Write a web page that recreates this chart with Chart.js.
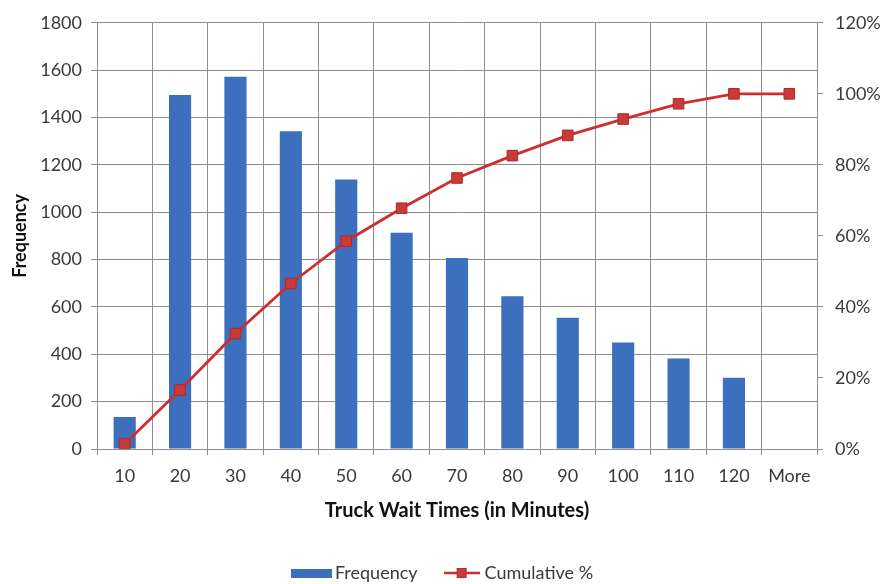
<!DOCTYPE html>
<html>
<head>
<meta charset="utf-8">
<script src="https://cdn.jsdelivr.net/npm/chart.js@4.4.1/dist/chart.umd.min.js"></script>
<style>
html,body{margin:0;padding:0;background:#fff;}
#wrap{width:891px;height:584px;position:relative;}
</style>
</head>
<body>
<div id="wrap"><canvas id="c" width="891" height="584"></canvas></div>
<script>
const categories = ['10','20','30','40','50','60','70','80','90','100','110','120','More'];
const frequency = [135, 1495, 1572, 1342, 1138, 913, 807, 645, 554, 450, 382, 301, 0];
const cumulativePct = [1.4, 16.6, 32.5, 46.6, 58.5, 67.8, 76.3, 82.6, 88.3, 92.9, 97.2, 100, 100];
const seriesNames = ['Frequency', 'Cumulative %'];

const FONT = 'Lato, "Open Sans", sans-serif';
const BLUE = '#3d6fbf';
const RED = '#cf2e2e';
const GRID = '#8e8e8e';
const TEXT = '#3a3a3a';

function barIcon(){
  const c = document.createElement('canvas'); c.width = 41; c.height = 9;
  const x = c.getContext('2d'); x.fillStyle = BLUE; x.fillRect(0,0,41,9); return c;
}
function lineIcon(){
  const c = document.createElement('canvas'); c.width = 36; c.height = 12;
  const x = c.getContext('2d');
  x.strokeStyle = RED; x.lineWidth = 2.5; x.beginPath(); x.moveTo(0,6); x.lineTo(36,6); x.stroke();
  x.fillStyle = '#c93a3a'; x.fillRect(13,1,10,10);
  x.strokeStyle = '#b22a2a'; x.lineWidth = 1; x.strokeRect(13.5,1.5,9,9);
  return c;
}
const icons = [barIcon(), lineIcon()];

const legendSize = {
  id: 'legendSize',
  afterInit(chart){
    const lg = chart.legend; const orig = lg.fit;
    lg.fit = function(){ orig.call(this); this.height = 50; };
  }
};

new Chart(document.getElementById('c'), {
  data: {
    labels: categories,
    datasets: [
      { type: 'bar', label: seriesNames[0], data: frequency, backgroundColor: BLUE,
        barPercentage: 0.4, categoryPercentage: 1.0, yAxisID: 'y', order: 2 },
      { type: 'line', label: seriesNames[1], data: cumulativePct, borderColor: RED, borderWidth: 2.8,
        pointStyle: 'rect', pointRadius: 7.5, pointBackgroundColor: '#c93a3a', pointBorderColor: '#b22a2a',
        pointBorderWidth: 1, tension: 0, yAxisID: 'y1', order: 1 }
    ]
  },
  options: {
    responsive: false, animation: false, devicePixelRatio: 1,
    layout: { padding: { top: 22, left: 0, right: 0, bottom: 0 } },
    plugins: {
      tooltip: { enabled: false },
      legend: {
        position: 'bottom',
        labels: {
          font: { family: FONT, size: 18 }, color: TEXT, padding: 30,
          usePointStyle: true, pointStyleWidth: 28,
          generateLabels(chart){
            return chart.data.datasets.map((d, i) => ({
              text: d.label, datasetIndex: i, pointStyle: icons[i],
              fillStyle: BLUE, strokeStyle: BLUE, lineWidth: 0, hidden: false, fontColor: TEXT
            }));
          }
        }
      }
    },
    scales: {
      x: {
        grid: { color: GRID, offset: true, tickLength: 6, drawTicks: true },
        border: { color: GRID },
        ticks: { font: { family: FONT, size: 18 }, color: TEXT, padding: 10, maxRotation: 0 },
        title: { display: true, text: 'Truck Wait Times (in Minutes)', font: { family: FONT, size: 20, weight: 'bold' },
                 color: '#111', padding: { top: 0, bottom: 11 } },
        afterFit(s){ s.height = 85; }
      },
      y: {
        position: 'left', min: 0, max: 1800,
        grid: { color: GRID, tickLength: 6 },
        border: { color: GRID },
        ticks: { stepSize: 200, font: { family: FONT, size: 18 }, color: TEXT, padding: 9,
                 callback: v => String(v) },
        title: { display: true, text: 'Frequency', font: { family: FONT, size: 18, weight: 'bold' }, color: '#111',
                 padding: { top: 9, bottom: 0 } },
        afterFit(s){ s.width = 97; }
      },
      y1: {
        position: 'right', min: 0, max: 120,
        grid: { drawOnChartArea: false, color: GRID, tickLength: 6 },
        border: { color: GRID },
        ticks: { stepSize: 20, font: { family: FONT, size: 18 }, color: TEXT, padding: 12,
                 callback: v => v + '%' },
        afterFit(s){ s.width = 74; }
      }
    }
  },
  plugins: [legendSize]
});
</script>
</body>
</html>
